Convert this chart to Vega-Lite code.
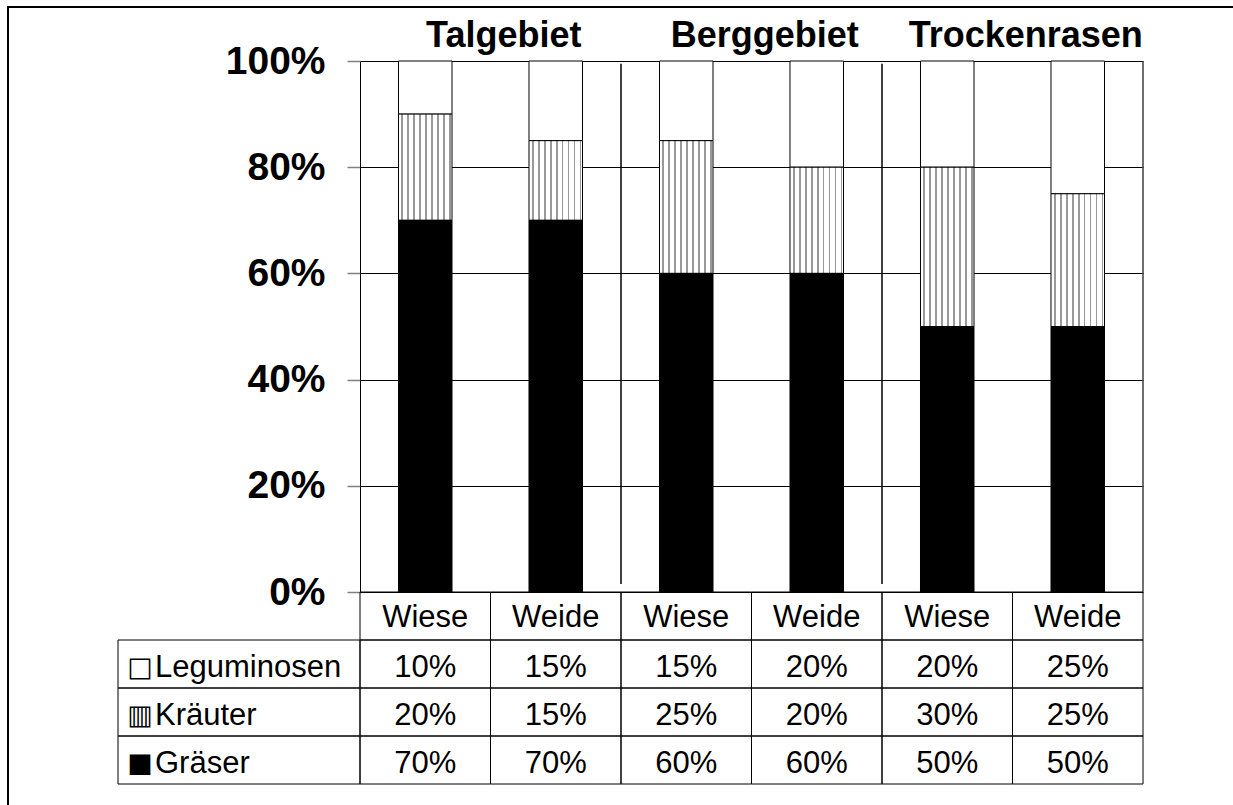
{
  "$schema": "https://vega.github.io/schema/vega-lite/v6.json",
  "width": 1227,
  "height": 800,
  "autosize": {"type": "none"},
  "padding": {"left": 8, "top": 7, "right": -2, "bottom": -2},
  "background": "white",
  "config": {"view": {"stroke": "black", "strokeWidth": 2}, "font": "Liberation Sans"},
  "datasets": {
    "main": [
      {"c": "c1", "site": "Talgebiet", "use": "Wiese", "species": "Leguminosen", "v": 0.10},
      {"c": "c1", "site": "Talgebiet", "use": "Wiese", "species": "Kräuter", "v": 0.20},
      {"c": "c1", "site": "Talgebiet", "use": "Wiese", "species": "Gräser", "v": 0.70},
      {"c": "c2", "site": "Talgebiet", "use": "Weide", "species": "Leguminosen", "v": 0.15},
      {"c": "c2", "site": "Talgebiet", "use": "Weide", "species": "Kräuter", "v": 0.15},
      {"c": "c2", "site": "Talgebiet", "use": "Weide", "species": "Gräser", "v": 0.70},
      {"c": "c3", "site": "Berggebiet", "use": "Wiese", "species": "Leguminosen", "v": 0.15},
      {"c": "c3", "site": "Berggebiet", "use": "Wiese", "species": "Kräuter", "v": 0.25},
      {"c": "c3", "site": "Berggebiet", "use": "Wiese", "species": "Gräser", "v": 0.60},
      {"c": "c4", "site": "Berggebiet", "use": "Weide", "species": "Leguminosen", "v": 0.20},
      {"c": "c4", "site": "Berggebiet", "use": "Weide", "species": "Kräuter", "v": 0.20},
      {"c": "c4", "site": "Berggebiet", "use": "Weide", "species": "Gräser", "v": 0.60},
      {"c": "c5", "site": "Trockenrasen", "use": "Wiese", "species": "Leguminosen", "v": 0.20},
      {"c": "c5", "site": "Trockenrasen", "use": "Wiese", "species": "Kräuter", "v": 0.30},
      {"c": "c5", "site": "Trockenrasen", "use": "Wiese", "species": "Gräser", "v": 0.50},
      {"c": "c6", "site": "Trockenrasen", "use": "Weide", "species": "Leguminosen", "v": 0.25},
      {"c": "c6", "site": "Trockenrasen", "use": "Weide", "species": "Kräuter", "v": 0.25},
      {"c": "c6", "site": "Trockenrasen", "use": "Weide", "species": "Gräser", "v": 0.50}
    ],
    "rowlabels": [
      {"species": "Leguminosen", "swatch": "□"},
      {"species": "Kräuter", "swatch": "▥"},
      {"species": "Gräser", "swatch": "■"}
    ]
  },
  "layer": [
    {
      "data": {"name": "main"},
      "mark": {"type": "bar", "stroke": "black", "strokeWidth": 1, "width": {"band": 0.41}},
      "encoding": {
        "x": {"field": "c", "type": "nominal", "scale": {"domain": ["c1","c2","c3","c4","c5","c6"], "range": [352, 1135], "paddingInner": 0, "paddingOuter": 0}, "axis": null},
        "y": {"field": "v", "type": "quantitative", "stack": "zero",
          "scale": {"domain": [0, 1], "range": [585, 54], "nice": false, "zero": false},
          "axis": {"values": [0, 0.2, 0.4, 0.6, 0.8, 1], "format": ".0%", "title": null, "grid": true, "gridColor": "black", "gridWidth": 1, "gridOpacity": 1, "domainColor": "black", "domainWidth": 1, "tickColor": "#808080", "tickSize": 13, "tickWidth": 1.5, "labelFont": "Liberation Sans", "labelFontWeight": "bold", "labelFontSize": 39, "labelColor": "black", "labelPadding": 22, "labelOverlap": false, "offset": -352}},
        "order": {"field": "species", "type": "nominal", "sort": "ascending"},
        "fill": {
          "condition": [
            {"test": "datum.species === 'Gräser'", "value": "black"},
            {"test": "datum.species === 'Kräuter'", "value": {"gradient": "linear", "x1": 0, "y1": 0, "x2": 1, "y2": 0, "stops": [
              {"offset": 0, "color": "white"},
              {"offset": 0.0556, "color": "white"}, {"offset": 0.0556, "color": "#999999"}, {"offset": 0.0889, "color": "#999999"}, {"offset": 0.0889, "color": "white"},
              {"offset": 0.1667, "color": "white"}, {"offset": 0.1667, "color": "#999999"}, {"offset": 0.2, "color": "#999999"}, {"offset": 0.2, "color": "white"},
              {"offset": 0.2778, "color": "white"}, {"offset": 0.2778, "color": "#999999"}, {"offset": 0.3111, "color": "#999999"}, {"offset": 0.3111, "color": "white"},
              {"offset": 0.3889, "color": "white"}, {"offset": 0.3889, "color": "#999999"}, {"offset": 0.4222, "color": "#999999"}, {"offset": 0.4222, "color": "white"},
              {"offset": 0.5, "color": "white"}, {"offset": 0.5, "color": "#999999"}, {"offset": 0.5333, "color": "#999999"}, {"offset": 0.5333, "color": "white"},
              {"offset": 0.6111, "color": "white"}, {"offset": 0.6111, "color": "#999999"}, {"offset": 0.6444, "color": "#999999"}, {"offset": 0.6444, "color": "white"},
              {"offset": 0.7222, "color": "white"}, {"offset": 0.7222, "color": "#999999"}, {"offset": 0.7556, "color": "#999999"}, {"offset": 0.7556, "color": "white"},
              {"offset": 0.8333, "color": "white"}, {"offset": 0.8333, "color": "#999999"}, {"offset": 0.8667, "color": "#999999"}, {"offset": 0.8667, "color": "white"},
              {"offset": 0.9444, "color": "white"}, {"offset": 0.9444, "color": "#999999"}, {"offset": 0.9778, "color": "#999999"}, {"offset": 0.9778, "color": "white"},
              {"offset": 1, "color": "white"}
            ]}}
          ],
          "value": "white"
        }
      }
    },
    {
      "data": {"name": "main"},
      "transform": [{"filter": "datum.species === 'Gräser' && (datum.c === 'c2' || datum.c === 'c4')"}],
      "mark": {"type": "rule", "stroke": "black", "strokeWidth": 1.5},
      "encoding": {
        "x": {"field": "c", "type": "nominal", "bandPosition": 1, "scale": {"domain": ["c1","c2","c3","c4","c5","c6"], "range": [352, 1135], "paddingInner": 0, "paddingOuter": 0}, "axis": null},
        "y": {"datum": 0.015, "type": "quantitative", "scale": {"domain": [0, 1], "range": [585, 54], "nice": false, "zero": false}, "axis": null},
        "y2": {"datum": 0.995}
      }
    },
    {
      "data": {"name": "main"},
      "transform": [{"filter": "datum.species === 'Gräser' && datum.c === 'c6'"}],
      "mark": {"type": "rule", "stroke": "#404040", "strokeWidth": 1.5},
      "encoding": {
        "x": {"field": "c", "type": "nominal", "bandPosition": 1, "scale": {"domain": ["c1","c2","c3","c4","c5","c6"], "range": [352, 1135], "paddingInner": 0, "paddingOuter": 0}, "axis": null},
        "y": {"datum": 0, "type": "quantitative", "scale": {"domain": [0, 1], "range": [585, 54], "nice": false, "zero": false}, "axis": null},
        "y2": {"datum": 1}
      }
    },
    {
      "data": {"name": "main"},
      "transform": [{"filter": "datum.species === 'Gräser' && datum.use === 'Weide'"}],
      "mark": {"type": "text", "font": "Liberation Sans", "fontWeight": "bold", "fontSize": 36, "baseline": "alphabetic", "align": "center", "dy": -14, "dx": -52, "color": "black"},
      "encoding": {
        "x": {"field": "c", "type": "nominal", "scale": {"domain": ["c1","c2","c3","c4","c5","c6"], "range": [352, 1135], "paddingInner": 0, "paddingOuter": 0}, "axis": null},
        "y": {"datum": 1, "type": "quantitative", "scale": {"domain": [0, 1], "range": [585, 54], "nice": false, "zero": false}, "axis": null},
        "text": {"field": "site"}
      }
    },
    {
      "data": {"name": "main"},
      "mark": {"type": "rect", "fill": null, "stroke": "black", "strokeWidth": 1},
      "encoding": {
        "x": {"field": "c", "type": "nominal", "scale": {"domain": ["c1","c2","c3","c4","c5","c6"], "range": [352, 1135], "paddingInner": 0, "paddingOuter": 0}, "axis": null},
        "y": {"field": "species", "type": "nominal", "scale": {"domain": ["hdr","Leguminosen","Kräuter","Gräser"], "range": [585, 777], "paddingInner": 0, "paddingOuter": 0}, "axis": null}
      }
    },
    {
      "data": {"name": "main"},
      "transform": [{"filter": "datum.species === 'Gräser'"}],
      "mark": {"type": "rect", "fill": null, "stroke": "black", "strokeWidth": 1},
      "encoding": {
        "x": {"field": "c", "type": "nominal", "scale": {"domain": ["c1","c2","c3","c4","c5","c6"], "range": [352, 1135], "paddingInner": 0, "paddingOuter": 0}, "axis": null},
        "y": {"datum": "hdr", "type": "nominal", "scale": {"domain": ["hdr","Leguminosen","Kräuter","Gräser"], "range": [585, 777], "paddingInner": 0, "paddingOuter": 0}, "axis": null}
      }
    },
    {
      "data": {"name": "main"},
      "mark": {"type": "text", "font": "Liberation Sans", "fontSize": 31, "baseline": "middle", "align": "center", "dy": 4, "color": "black"},
      "encoding": {
        "x": {"field": "c", "type": "nominal", "scale": {"domain": ["c1","c2","c3","c4","c5","c6"], "range": [352, 1135], "paddingInner": 0, "paddingOuter": 0}, "axis": null},
        "y": {"field": "species", "type": "nominal", "scale": {"domain": ["hdr","Leguminosen","Kräuter","Gräser"], "range": [585, 777], "paddingInner": 0, "paddingOuter": 0}, "axis": null},
        "text": {"field": "v", "type": "quantitative", "format": ".0%"}
      }
    },
    {
      "data": {"name": "main"},
      "transform": [{"filter": "datum.species === 'Gräser'"}],
      "mark": {"type": "text", "font": "Liberation Sans", "fontSize": 31, "baseline": "middle", "align": "center", "dy": 2, "color": "black"},
      "encoding": {
        "x": {"field": "c", "type": "nominal", "scale": {"domain": ["c1","c2","c3","c4","c5","c6"], "range": [352, 1135], "paddingInner": 0, "paddingOuter": 0}, "axis": null},
        "y": {"datum": "hdr", "type": "nominal", "scale": {"domain": ["hdr","Leguminosen","Kräuter","Gräser"], "range": [585, 777], "paddingInner": 0, "paddingOuter": 0}, "axis": null},
        "text": {"field": "use"}
      }
    },
    {
      "data": {"name": "rowlabels"},
      "mark": {"type": "rect", "fill": null, "stroke": "black", "strokeWidth": 1},
      "encoding": {
        "x": {"datum": "lab", "type": "nominal", "scale": {"domain": ["lab"], "range": [110, 352], "paddingInner": 0, "paddingOuter": 0}, "axis": null},
        "y": {"field": "species", "type": "nominal", "scale": {"domain": ["hdr","Leguminosen","Kräuter","Gräser"], "range": [585, 777], "paddingInner": 0, "paddingOuter": 0}, "axis": null}
      }
    },
    {
      "data": {"name": "rowlabels"},
      "mark": {"type": "text", "font": "DejaVu Sans", "fontSize": 27, "baseline": "middle", "align": "center", "dx": -99, "dy": 4, "color": "black"},
      "encoding": {
        "x": {"datum": "lab", "type": "nominal", "scale": {"domain": ["lab"], "range": [110, 352], "paddingInner": 0, "paddingOuter": 0}, "axis": null},
        "y": {"field": "species", "type": "nominal", "scale": {"domain": ["hdr","Leguminosen","Kräuter","Gräser"], "range": [585, 777], "paddingInner": 0, "paddingOuter": 0}, "axis": null},
        "text": {"field": "swatch"}
      }
    },
    {
      "data": {"name": "rowlabels"},
      "mark": {"type": "text", "font": "Liberation Sans", "fontSize": 31, "baseline": "middle", "align": "left", "dx": -84, "dy": 4, "color": "black"},
      "encoding": {
        "x": {"datum": "lab", "type": "nominal", "scale": {"domain": ["lab"], "range": [110, 352], "paddingInner": 0, "paddingOuter": 0}, "axis": null},
        "y": {"field": "species", "type": "nominal", "scale": {"domain": ["hdr","Leguminosen","Kräuter","Gräser"], "range": [585, 777], "paddingInner": 0, "paddingOuter": 0}, "axis": null},
        "text": {"field": "species"}
      }
    }
  ],
  "resolve": {"scale": {"x": "independent", "y": "independent"}, "axis": {"x": "independent", "y": "independent"}}
}
